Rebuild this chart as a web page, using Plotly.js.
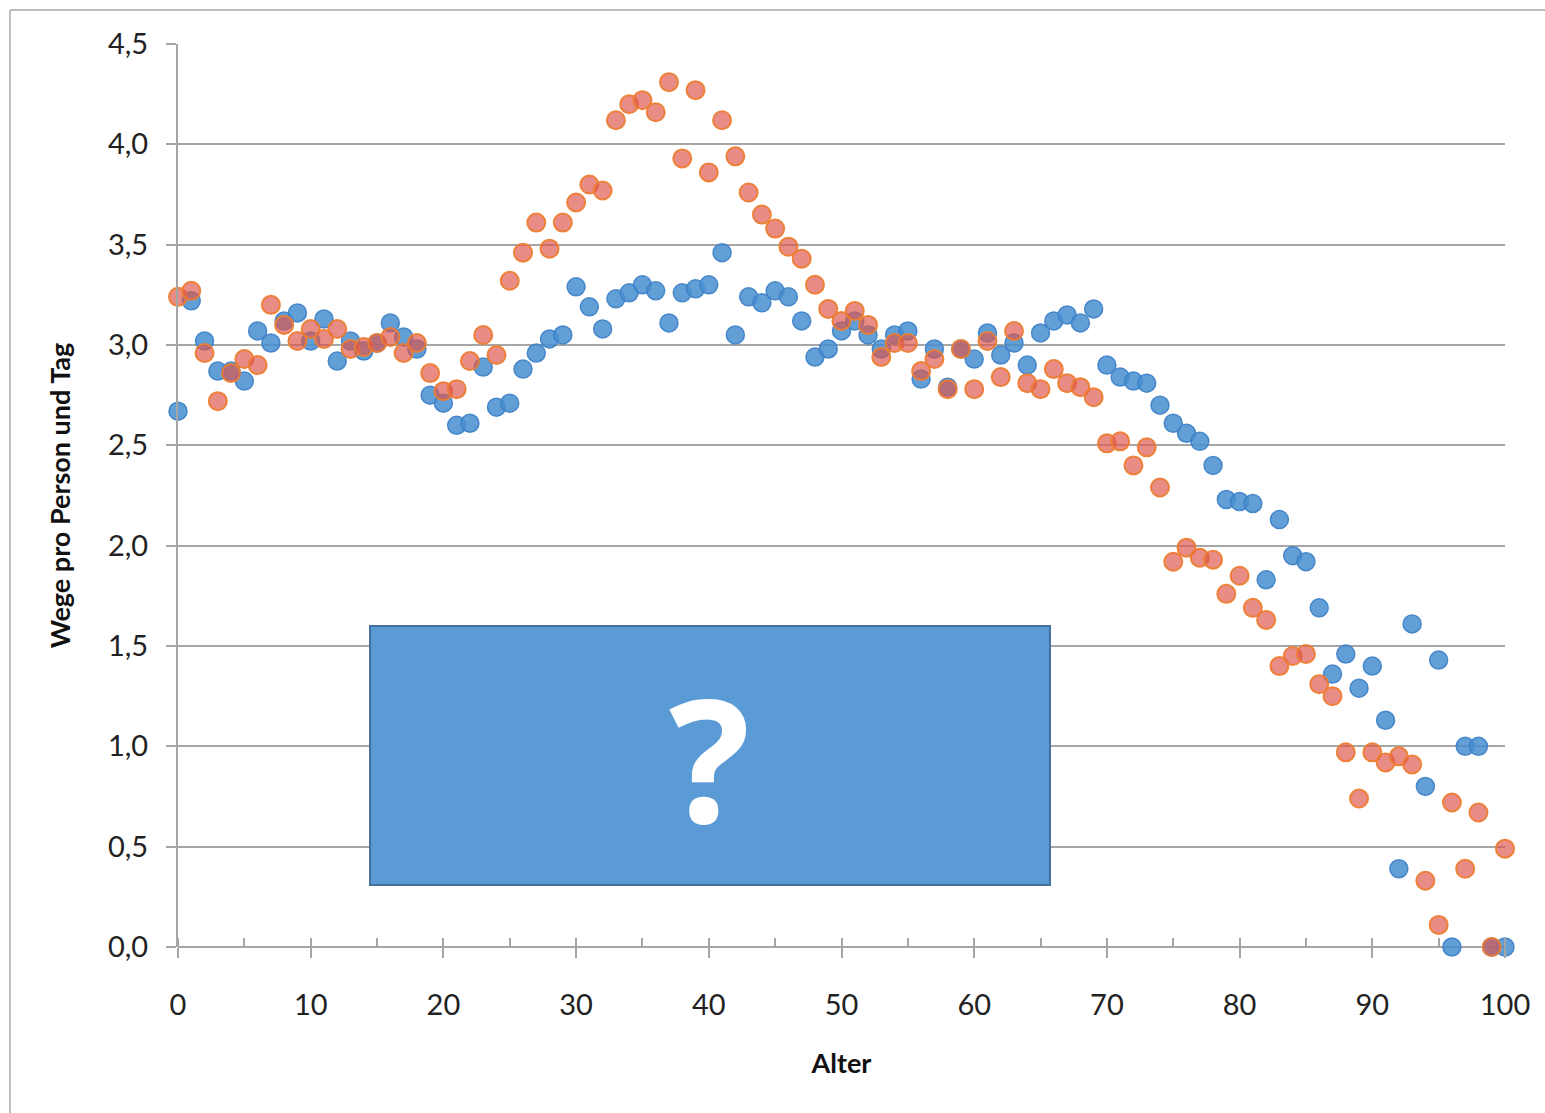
<!DOCTYPE html>
<html>
<head>
<meta charset="utf-8">
<script src="https://cdn.plot.ly/plotly-3.0.1.min.js"></script>
<style>
html,body{margin:0;padding:0;background:#fff;}
#chart{width:1545px;height:1113px;}
</style>
</head>
<body>
<div id="chart"></div>
<script>
const ages = [0,1,2,3,4,5,6,7,8,9,10,11,12,13,14,15,16,17,18,19,20,21,22,23,24,25,26,27,28,29,30,31,32,33,34,35,36,37,38,39,40,41,42,43,44,45,46,47,48,49,50,51,52,53,54,55,56,57,58,59,60,61,62,63,64,65,66,67,68,69,70,71,72,73,74,75,76,77,78,79,80,81,82,83,84,85,86,87,88,89,90,91,92,93,94,95,96,97,98,99,100];

const blueValues = [2.67,3.22,3.02,2.87,2.87,2.82,3.07,3.01,3.12,3.16,
  3.02,3.13,2.92,3.02,2.97,3.01,3.11,3.04,2.98,2.75,
  2.71,2.60,2.61,2.89,2.69,2.71,2.88,2.96,3.03,3.05,
  3.29,3.19,3.08,3.23,3.26,3.30,3.27,3.11,3.26,3.28,
  3.30,3.46,3.05,3.24,3.21,3.27,3.24,3.12,2.94,2.98,
  3.07,3.12,3.05,2.98,3.05,3.07,2.83,2.98,2.79,2.98,
  2.93,3.06,2.95,3.01,2.90,3.06,3.12,3.15,3.11,3.18,
  2.90,2.84,2.82,2.81,2.70,2.61,2.56,2.52,2.40,2.23,
  2.22,2.21,1.83,2.13,1.95,1.92,1.69,1.36,1.46,1.29,
  1.40,1.13,0.39,1.61,0.80,1.43,0.00,1.00,1.00,0.00,
  0.00];

const orangeValues = [3.24,3.27,2.96,2.72,2.86,2.93,2.90,3.20,3.10,3.02,
  3.08,3.03,3.08,2.98,2.99,3.01,3.04,2.96,3.01,2.86,
  2.77,2.78,2.92,3.05,2.95,3.32,3.46,3.61,3.48,3.61,
  3.71,3.80,3.77,4.12,4.20,4.22,4.16,4.31,3.93,4.27,
  3.86,4.12,3.94,3.76,3.65,3.58,3.49,3.43,3.30,3.18,
  3.12,3.17,3.10,2.94,3.01,3.01,2.87,2.93,2.78,2.98,
  2.78,3.02,2.84,3.07,2.81,2.78,2.88,2.81,2.79,2.74,
  2.51,2.52,2.40,2.49,2.29,1.92,1.99,1.94,1.93,1.76,
  1.85,1.69,1.63,1.40,1.45,1.46,1.31,1.25,0.97,0.74,
  0.97,0.92,0.95,0.91,0.33,0.11,0.72,0.39,0.67,0.00,
  0.49];

const xTitle = 'Alter';
const yTitle = 'Wege pro Person und Tag';
const boxText = '?';

const gridColor = '#a6a6a6';
const tickFont = {family: 'Lato, "Open Sans", sans-serif', size: 29, color: '#222'};
const titleFont = {family: 'Lato, "Open Sans", sans-serif', size: 27, color: '#111', weight: 'bold'};

const traces = [
  {
    x: ages, y: blueValues, type: 'scatter', mode: 'markers', cliponaxis: false,
    name: 'A',
    marker: {size: 18, color: 'rgba(72,143,208,0.86)', line: {color: 'rgba(60,128,198,0.9)', width: 1.5}}
  },
  {
    x: ages, y: orangeValues, type: 'scatter', mode: 'markers', cliponaxis: false,
    name: 'B',
    marker: {size: 18, color: 'rgba(222,85,75,0.68)', line: {color: 'rgba(237,125,49,0.95)', width: 2}}
  }
];

const layout = {
  width: 1545, height: 1113,
  margin: {l: 178, r: 40, t: 44, b: 166, pad: 0},
  paper_bgcolor: '#ffffff', plot_bgcolor: '#ffffff',
  showlegend: false,
  separators: ',.',
  xaxis: {
    range: [0, 100], dtick: 10, tick0: 0,
    showgrid: false, zeroline: false,
    showline: false,
    ticks: 'outside', ticklen: 10, tickwidth: 2, tickcolor: gridColor,
    minor: {dtick: 5, ticks: 'inside', ticklen: 9, tickwidth: 2, tickcolor: gridColor},
    tickfont: tickFont, ticklabelstandoff: 22,
    title: {text: xTitle, font: titleFont, standoff: 34}
  },
  yaxis: {
    range: [0, 4.5], dtick: 0.5, tick0: 0, tickformat: '.1f',
    showgrid: true, gridcolor: gridColor, gridwidth: 2,
    zeroline: true, zerolinecolor: gridColor, zerolinewidth: 2,
    showline: true, linecolor: gridColor, linewidth: 2,
    ticks: 'outside', ticklen: 10, tickwidth: 2, tickcolor: gridColor,
    tickfont: tickFont, ticklabelstandoff: 12,
    title: {text: yTitle, font: titleFont, standoff: 30}
  },
  shapes: [
    {type: 'line', xref: 'paper', yref: 'paper', x0: -0.1266, x1: -0.1266, y0: 1.0377, y1: -0.25,
     line: {color: '#bfbfbf', width: 2}},
    {type: 'line', xref: 'paper', yref: 'paper', x0: -0.1266, x1: 1.1, y0: 1.0377, y1: 1.0377,
     line: {color: '#bfbfbf', width: 2}},
    {type: 'rect', xref: 'paper', yref: 'paper', x0: 0.1447, x1: 0.6571, y0: 0.0687, y1: 0.3555,
     fillcolor: '#5b9bd5', line: {color: '#41719c', width: 2}, layer: 'above'}
  ],
  annotations: [
    {xref: 'paper', yref: 'paper', x: 0.4009, y: 0.2104, text: boxText, showarrow: false,
     xanchor: 'center', yanchor: 'middle',
     font: {family: '"Open Sans", Lato, sans-serif', size: 170, color: '#ffffff', weight: 'bold'}}
  ]
};

Plotly.newPlot('chart', traces, layout, {displayModeBar: false, staticPlot: true});
</script>
</body>
</html>
